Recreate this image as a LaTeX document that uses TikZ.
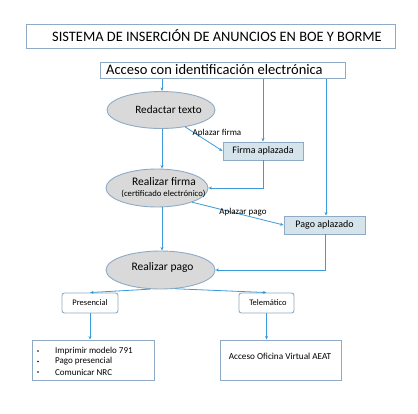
\documentclass[tikz,border=0pt]{standalone}
\usepackage{fontspec}
\setmainfont{Carlito}
\usetikzlibrary{shapes.geometric,arrows.meta}
\definecolor{arr}{HTML}{3C9AD8}
\definecolor{bord}{HTML}{8FAAC4}
\definecolor{ellfill}{HTML}{D9D9D9}
\definecolor{pendfill}{HTML}{D5E3EB}
\tikzset{
  box/.style={draw=bord, line width=0.9pt, inner sep=0pt},
  ell/.style={ellipse, draw=bord, fill=ellfill, line width=0.9pt, inner sep=0pt},
  pend/.style={draw=bord, fill=pendfill, line width=0.9pt, inner sep=0pt},
  rbox/.style={draw=bord, rounded corners=2.5pt, line width=0.9pt, inner sep=0pt},
  conn/.style={draw=arr, line width=0.8pt, -{Stealth[length=3.5pt,width=3pt]}},
  lbl/.style={font=\fontsize{9}{10}\selectfont, inner sep=0pt}
}
\begin{document}
\begin{tikzpicture}[x=1pt,y=-1pt]
\useasboundingbox (0,0) rectangle (418,413);
% title
\node[box, minimum width=369pt, minimum height=24pt] (title) at (210.5,36) {};
\node[font=\fontsize{14.4}{16}\selectfont, inner sep=0pt] at (217,36) {SISTEMA DE INSERCIÓN DE ANUNCIOS EN BOE Y BORME};
% access
\node[box, minimum width=245pt, minimum height=16pt] (acc) at (222.5,70.5) {};
\node[font=\fontsize{14.5}{16}\selectfont, inner sep=0pt, anchor=west] at (106,70) {Acceso con identificación electrónica};
\coordinate (accA) at (162,78.5);
\coordinate (accB) at (263,78.5);
\coordinate (accC) at (326,78.5);
% ellipses
\node[ell, minimum width=108pt, minimum height=37pt] (red) at (161,110) {};
\node[font=\fontsize{11.2}{12}\selectfont, inner sep=0pt] at (168.5,110) {Redactar texto};
\node[ell, minimum width=102pt, minimum height=38pt] (fir) at (157,188) {};
\node[font=\fontsize{11.5}{12}\selectfont, inner sep=0pt] at (164,182) {Realizar firma};
\node[font=\fontsize{8.7}{10}\selectfont, inner sep=0pt] at (163.5,194) {(certificado electrónico)};
\node[ell, minimum width=109pt, minimum height=38pt] (pag) at (160.5,270) {};
\node[font=\fontsize{11.5}{12}\selectfont, inner sep=0pt] at (162.5,267) {Realizar pago};
% pending boxes
\node[pend, minimum width=80pt, minimum height=18pt, font=\fontsize{10}{12}\selectfont] (fap) at (263,151) {Firma aplazada};
\node[pend, minimum width=81pt, minimum height=18pt, font=\fontsize{10}{12}\selectfont] (pap) at (324.5,225) {Pago aplazado};
% payment options
\node[rbox, minimum width=56pt, minimum height=20pt, font=\fontsize{8.5}{10}\selectfont] (pres) at (90,303) {Presencial};
\node[rbox, minimum width=55pt, minimum height=20pt, font=\fontsize{8.5}{10}\selectfont] (tel) at (266.5,303) {\hspace*{3pt}Telemático};
\node[box, minimum width=122pt, minimum height=40pt] (lb) at (93,360) {};
\node[box, minimum width=121pt, minimum height=40pt] (rb) at (280.5,360) {};
\node[lbl, anchor=west] at (55,351) {Imprimir modelo 791};
\node[lbl, anchor=west] at (55,361.5) {Pago presencial};
\node[lbl, anchor=west] at (55,372) {Comunicar NRC};
\foreach \yy in {351,361.5,372} \fill (38,\yy) circle (0.9pt);
\node[font=\fontsize{9.2}{10}\selectfont, inner sep=0pt] at (280,356) {Acceso Oficina Virtual AEAT};
% connectors
\draw[conn] (accA) -- (red.north -| accA);
\draw[conn] (accB) -- (fap.north -| accB);
\draw[conn] (accC) -- (pap.north -| accC);
\draw[conn] (red.south -| accA) -- (fir.north -| accA);
\draw[conn] (red.-35) -- (fap.west);
\node[lbl] at (217,133) {Aplazar firma};
\draw[conn] (fap.south) |- (fir.east);
\draw[conn] (fir.-22) -- (pap.west);
\node[lbl] at (243,212) {Aplazar pago};
\draw[conn] (fir.south -| accA) -- (pag.north -| accA);
\draw[conn] (pap.south -| 325,0) |- (pag.east);
\draw[conn] (pag.-118) -- (pres.north);
\draw[conn] (pag.-52) -- (tel.north);
\draw[conn] (pres.south) -- (lb.north -| pres.south);
\draw[conn] (tel.south) -- (rb.north -| tel.south);
\end{tikzpicture}
\end{document}
